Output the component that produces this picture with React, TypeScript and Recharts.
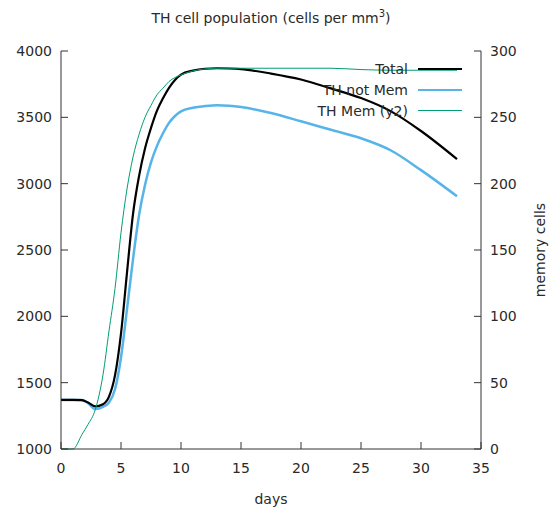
import React from 'react'
import { ComposedChart, Line, XAxis, YAxis, Legend } from 'recharts'

const DAYS = [0, 1, 1.75, 2.25, 2.85, 3.5, 4, 4.5, 5, 5.5, 6, 6.5, 7, 7.5, 8, 8.5, 9, 9.5, 10, 11, 12, 13, 14, 15, 17.5, 20, 22.5, 25, 27.5, 30, 33]
const TOTAL = [1370, 1370, 1369, 1350, 1322, 1338, 1395, 1555, 1870, 2330, 2770, 3055, 3265, 3420, 3550, 3643, 3722, 3781, 3822, 3852, 3866, 3870, 3868, 3863, 3830, 3785, 3718, 3645, 3545, 3397, 3185]
const NOT_MEM = [1370, 1370, 1369, 1345, 1302, 1318, 1350, 1450, 1690, 2055, 2430, 2760, 2990, 3160, 3285, 3380, 3458, 3510, 3545, 3572, 3585, 3592, 3588, 3578, 3532, 3470, 3406, 3342, 3250, 3102, 2905]
const MEM = [0, 0, 11, 18.5, 29.5, 56, 89, 121, 163, 196, 220, 237, 250, 259, 267, 272, 277, 280, 282, 285, 286.5, 287, 287, 287, 287, 287, 287, 286, 285.5, 285.5, 285.5]

const X_TICKS = [0, 5, 10, 15, 20, 25, 30, 35]
const Y_TICKS = [1000, 1500, 2000, 2500, 3000, 3500, 4000]
const Y2_TICKS = [0, 50, 100, 150, 200, 250, 300]

const SERIES = [
  { key: 'total', name: 'Total', color: '#000000', width: 2.5 },
  { key: 'notMem', name: 'TH not Mem', color: '#56b4e9', width: 2.5 },
  { key: 'mem', name: 'TH Mem (y2)', color: '#009e73', width: 1 },
]

const data = DAYS.map((d, i) => ({ day: d, total: TOTAL[i], notMem: NOT_MEM[i], mem: MEM[i] }))

const FONT = 'DejaVu Sans'
const AXIS = '#333'
const TEXT = '#2a2a2a'

const LeftTick = ({ x, y, payload }: any) => (
  <g>
    <line x1={x} x2={x + 7} y1={y} y2={y} stroke={AXIS} />
    <text x={x - 9} y={y + 5} textAnchor="end" fontSize={14} fill={TEXT} fontFamily={FONT}>{payload.value}</text>
  </g>
)

const RightTick = ({ x, y, payload }: any) => (
  <g>
    <line x1={x - 7} x2={x} y1={y} y2={y} stroke={AXIS} />
    <text x={x + 9} y={y + 5} textAnchor="start" fontSize={14} fill={TEXT} fontFamily={FONT}>{payload.value}</text>
  </g>
)

const BottomTick = ({ x, y, payload }: any) => (
  <g>
    <line x1={x} x2={x} y1={y - 7} y2={y} stroke={AXIS} />
    <text x={x} y={y + 24} textAnchor="middle" fontSize={14} fill={TEXT} fontFamily={FONT}>{payload.value}</text>
  </g>
)

const TopTick = ({ x, y }: any) => <line x1={x} x2={x} y1={y} y2={y + 7} stroke={AXIS} />

const DaysLabel = ({ viewBox }: any) => (
  <text x={viewBox.x + viewBox.width / 2} y={viewBox.y + 55} textAnchor="middle" fontSize={14} fill={TEXT} fontFamily={FONT}>days</text>
)

const MemLabel = ({ viewBox }: any) => {
  const cx = viewBox.x + viewBox.width - 13
  const cy = viewBox.y + viewBox.height / 2
  return (
    <text x={cx} y={cy} transform={`rotate(-90 ${cx} ${cy})`} textAnchor="middle" fontSize={14} fill={TEXT} fontFamily={FONT}>memory cells</text>
  )
}

const Key = () => (
  <div style={{ fontFamily: FONT, fontSize: 14, color: TEXT }}>
    {SERIES.map((s) => (
      <div key={s.key} style={{ display: 'flex', justifyContent: 'flex-end', alignItems: 'center', height: 21 }}>
        <span>{s.name}</span>
        <span style={{ display: 'inline-block', width: 44, height: 0, borderTop: `${s.width}px solid ${s.color}`, marginLeft: 10 }} />
      </div>
    ))}
  </div>
)

export default function App() {
  return (
    <div style={{ position: 'absolute', left: 0, top: 0, width: 558, height: 514, background: '#fff', fontFamily: FONT }}>
      <div style={{ position: 'absolute', top: 8, left: 61, width: 420, textAlign: 'center', fontSize: 14, color: TEXT }}>
        TH cell population (cells per mm<sup style={{ fontSize: 10 }}>3</sup>)
      </div>
      <ComposedChart width={558} height={514} data={data} margin={{ top: 51, right: 0, bottom: 0, left: 0 }}>
        <XAxis dataKey="day" type="number" domain={[0, 35]} ticks={X_TICKS} interval={0} height={65}
          stroke={AXIS} tickLine={false} tickSize={0} tickMargin={0} tick={<BottomTick />} label={<DaysLabel />} />
        <XAxis xAxisId="top" orientation="top" dataKey="day" type="number" domain={[0, 35]} ticks={X_TICKS} interval={0} height={0}
          stroke={AXIS} tickLine={false} tickSize={0} tickMargin={0} tick={<TopTick />} />
        <YAxis yAxisId="left" domain={[1000, 4000]} ticks={Y_TICKS} interval={0} width={61}
          stroke={AXIS} tickLine={false} tickSize={0} tickMargin={0} tick={<LeftTick />} />
        <YAxis yAxisId="right" orientation="right" domain={[0, 300]} ticks={Y2_TICKS} interval={0} width={77}
          stroke={AXIS} tickLine={false} tickSize={0} tickMargin={0} tick={<RightTick />} label={<MemLabel />} />
        <Legend layout="vertical" align="center" verticalAlign="middle" content={<Key />}
          wrapperStyle={{ left: 262, top: 58, width: 200, bottom: 'auto' }} />
        <Line yAxisId="left" type="monotone" dataKey="notMem" name="TH not Mem" stroke="#56b4e9" strokeWidth={2.5} dot={false} isAnimationActive={false} />
        <Line yAxisId="left" type="monotone" dataKey="total" name="Total" stroke="#000000" strokeWidth={2.2} dot={false} isAnimationActive={false} />
        <Line yAxisId="right" type="monotone" dataKey="mem" name="TH Mem (y2)" stroke="#009e73" strokeWidth={1} dot={false} isAnimationActive={false} />
      </ComposedChart>
    </div>
  )
}
